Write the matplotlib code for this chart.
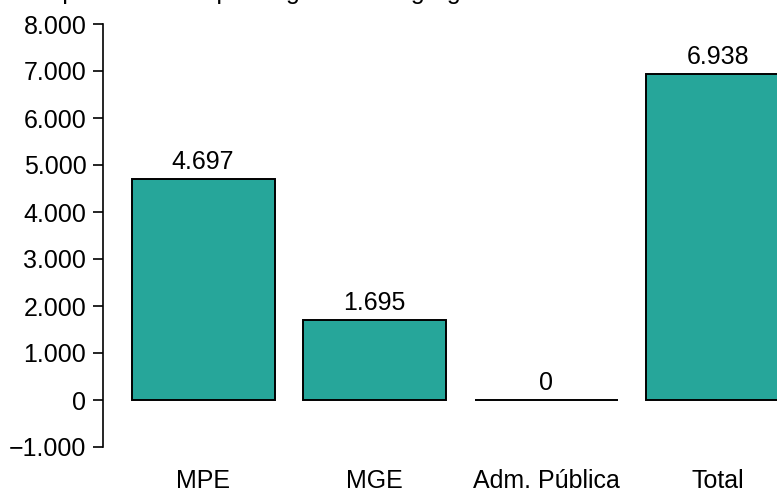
import matplotlib
matplotlib.use('Agg')
import matplotlib.pyplot as plt
from matplotlib.ticker import FuncFormatter

categories = ['MPE', 'MGE', 'Adm. Pública', 'Total']
values = [4697, 1695, 0, 6938]
yticks = [-1000, 0, 1000, 2000, 3000, 4000, 5000, 6000, 7000, 8000]
title = 'Empresas ativas por segmento e agregado'


def fmt(v):
    s = f"{abs(int(v)):,}".replace(',', '.')
    return ('\u2212' + s) if v < 0 else s


plt.rcParams['font.family'] = ['Liberation Sans', 'DejaVu Sans']
fig = plt.figure(figsize=(7.77, 4.92), dpi=100)
W, H = 777, 492
# axes: x from 103 px to past the right edge, y from 447 (-1000) to 24 (8000)
ax = fig.add_axes([103 / W, (H - 447) / H, (W - 103) / W, (447 - 24) / H])

lefts = [0.2 + 1.2 * i for i in range(len(values))]
centers = [l + 0.5 for l in lefts]
bars = ax.bar(centers, values, width=1.0, color='#26A69A', edgecolor='black',
              linewidth=1.4)
for c, v in zip(centers, values):
    ax.text(c, v + 110, fmt(v), ha='center', va='bottom', fontsize=18)

ax.set_xlim(0, (W - 103) / 143)
ax.set_ylim(-1000, 8000)
ax.set_yticks(yticks)
ax.yaxis.set_major_formatter(FuncFormatter(lambda v, p: fmt(v)))
ax.tick_params(axis='y', labelsize=18, length=7, width=1.2, pad=5)
ax.set_xticks(centers)
ax.set_xticklabels(categories)
ax.tick_params(axis='x', labelsize=18, length=0, pad=16)
for s in ['top', 'right', 'bottom']:
    ax.spines[s].set_visible(False)
ax.spines['left'].set_linewidth(1.2)
ax.spines['left'].set_bounds(-1000, 8000)

fig.text(25 / W, 1 + 1 / H, title, ha='left', va='baseline', fontsize=18)

fig.savefig('out.png', dpi=100)
